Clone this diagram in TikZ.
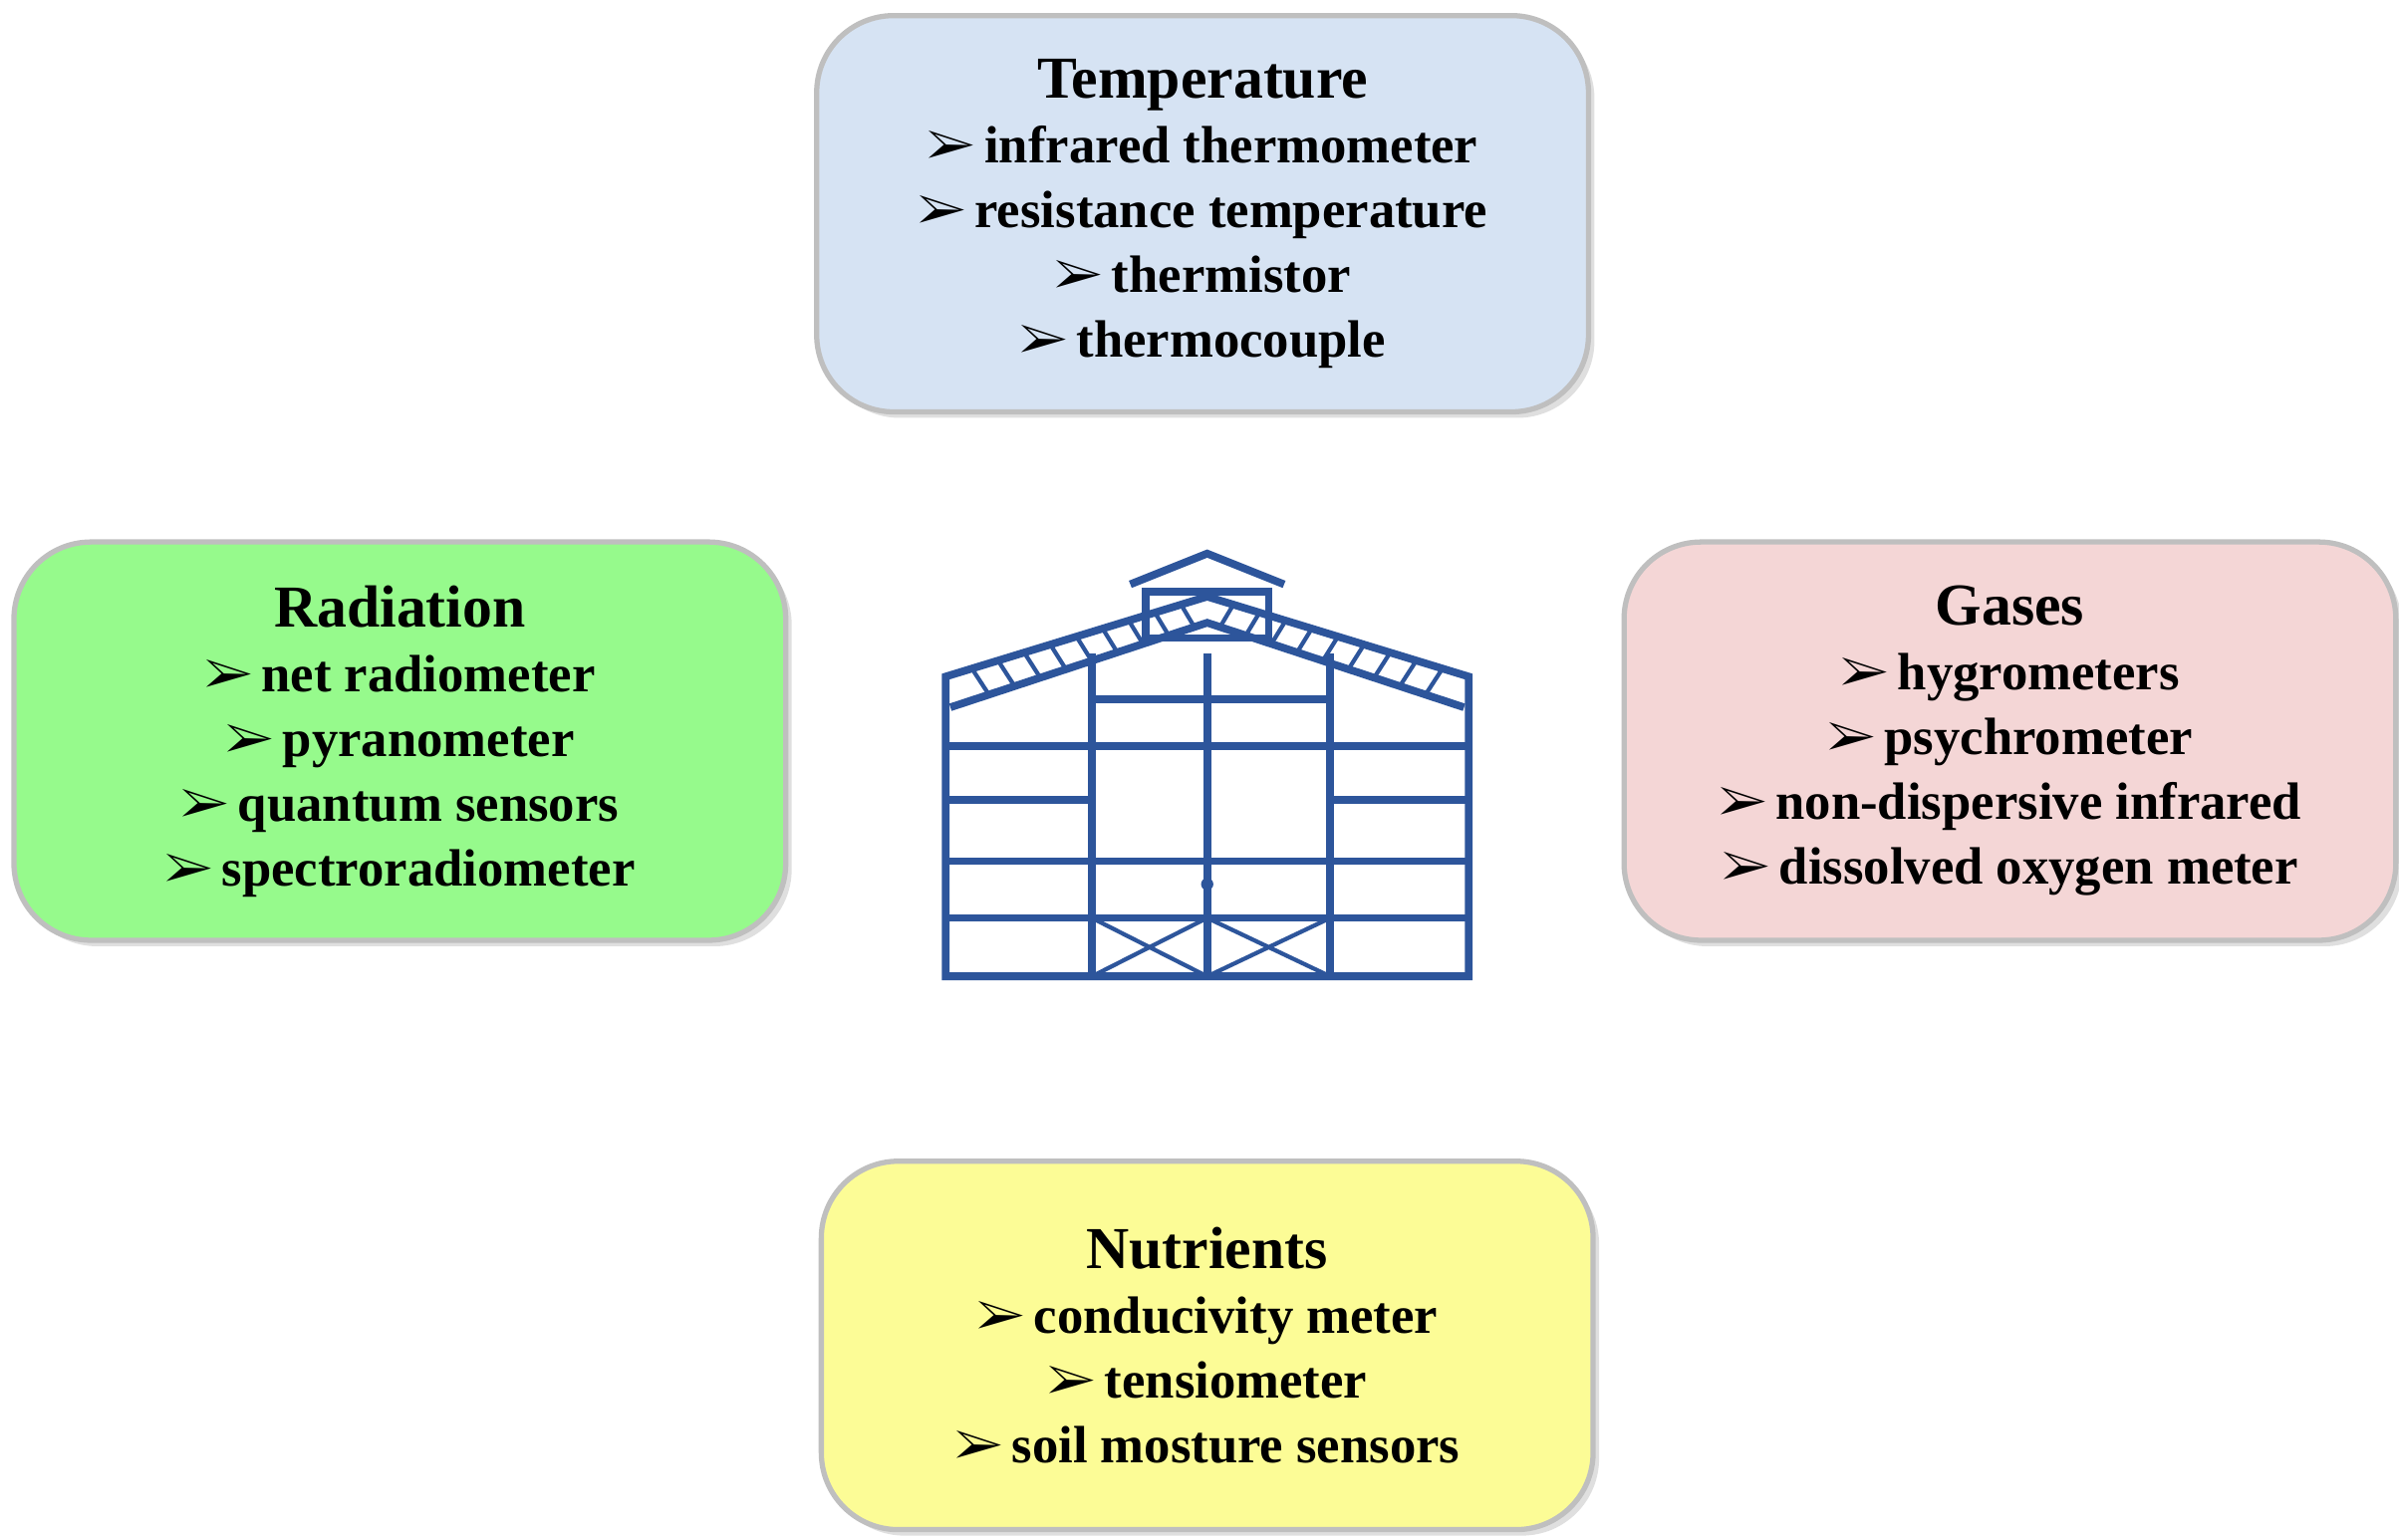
\documentclass[tikz,border=0pt]{standalone}
\usepackage{fontspec}
\setmainfont{Liberation Serif}
\usepackage{pifont}
\usetikzlibrary{shadows,calc}

\definecolor{tempblue}{RGB}{214,227,243}
\definecolor{radgreen}{RGB}{150,250,140}
\definecolor{gaspink}{RGB}{244,214,214}
\definecolor{nutyellow}{RGB}{252,252,150}
\definecolor{house}{RGB}{45,85,155}

\tikzset{
  sensor/.style={draw=black!25, line width=1.5pt, rounded corners=22pt,
    minimum width=7.75cm, minimum height=4cm, align=center, inner sep=0pt,
    font=\bfseries\fontsize{15}{18.5}\selectfont,
    drop shadow={shadow xshift=0.6mm, shadow yshift=-0.6mm, opacity=0.25}},
  frame/.style={house, line width=2.2pt},
  thin/.style={house, line width=1.2pt}
}
\newcommand{\itm}{\ding{226}\,}

\begin{document}
\begin{tikzpicture}[x=0.01544cm, y=-0.01544cm]
\useasboundingbox (0,0) rectangle (1560,1001);

\node[sensor, fill=tempblue, minimum height=3.98cm] (temp) at (782,139)
  {{\fontsize{17}{20}\selectfont Temperature}\\ \itm infrared thermometer\\
   \itm resistance temperature\\ \itm thermistor\\ \itm thermocouple};
\node[sensor, fill=radgreen] (rad) at (260,482)
  {{\fontsize{17}{20}\selectfont Radiation}\\ \itm net radiometer\\
   \itm pyranometer\\ \itm quantum sensors\\ \itm spectroradiometer};
\node[sensor, fill=gaspink] (gas) at (1307,482)
  {{\fontsize{17}{20}\selectfont Gases}\\ \itm hygrometers\\
   \itm psychrometer\\ \itm non-dispersive infrared\\ \itm dissolved oxygen meter};
\node[sensor, fill=nutyellow, minimum height=3.7cm] (nut) at (785,875)
  {{\fontsize{17}{20}\selectfont Nutrients}\\ \itm conducivity meter\\
   \itm tensiometer\\ \itm soil mosture sensors};

% greenhouse
\coordinate (gl) at (615,440);
\coordinate (gr) at (955,440);
\coordinate (apex) at (785,388);
\draw[frame] (615,635) -- (gl) -- (apex) -- (gr) -- (955,635) -- cycle;
\draw[frame] (618,460) -- (785,405) -- (952,460);
\foreach \t in {0.1,0.2,...,0.95} {
  \draw[thin] ($(gl)!\t!(apex)$) -- ($(618,460)!\t+0.05!(785,405)$);
  \draw[thin] ($(gr)!\t!(apex)$) -- ($(952,460)!\t+0.05!(785,405)$);
}
\draw[frame] (745,415) rectangle (825,385);
\draw[frame] (735,380) -- (785,360) -- (835,380);
\foreach \x in {710,785,865} \draw[frame] (\x,425) -- (\x,635);
\foreach \y in {485,560,597,635} \draw[frame] (615,\y) -- (955,\y);
\foreach \y in {520} {
  \draw[frame] (615,\y) -- (710,\y);
  \draw[frame] (865,\y) -- (955,\y);
}
\draw[frame] (710,455) -- (865,455);
\draw[thin] (710,597) -- (785,635) (785,597) -- (710,635)
            (785,597) -- (865,635) (865,597) -- (785,635);
\fill[house] (785,575) circle (4);
\end{tikzpicture}
\end{document}
